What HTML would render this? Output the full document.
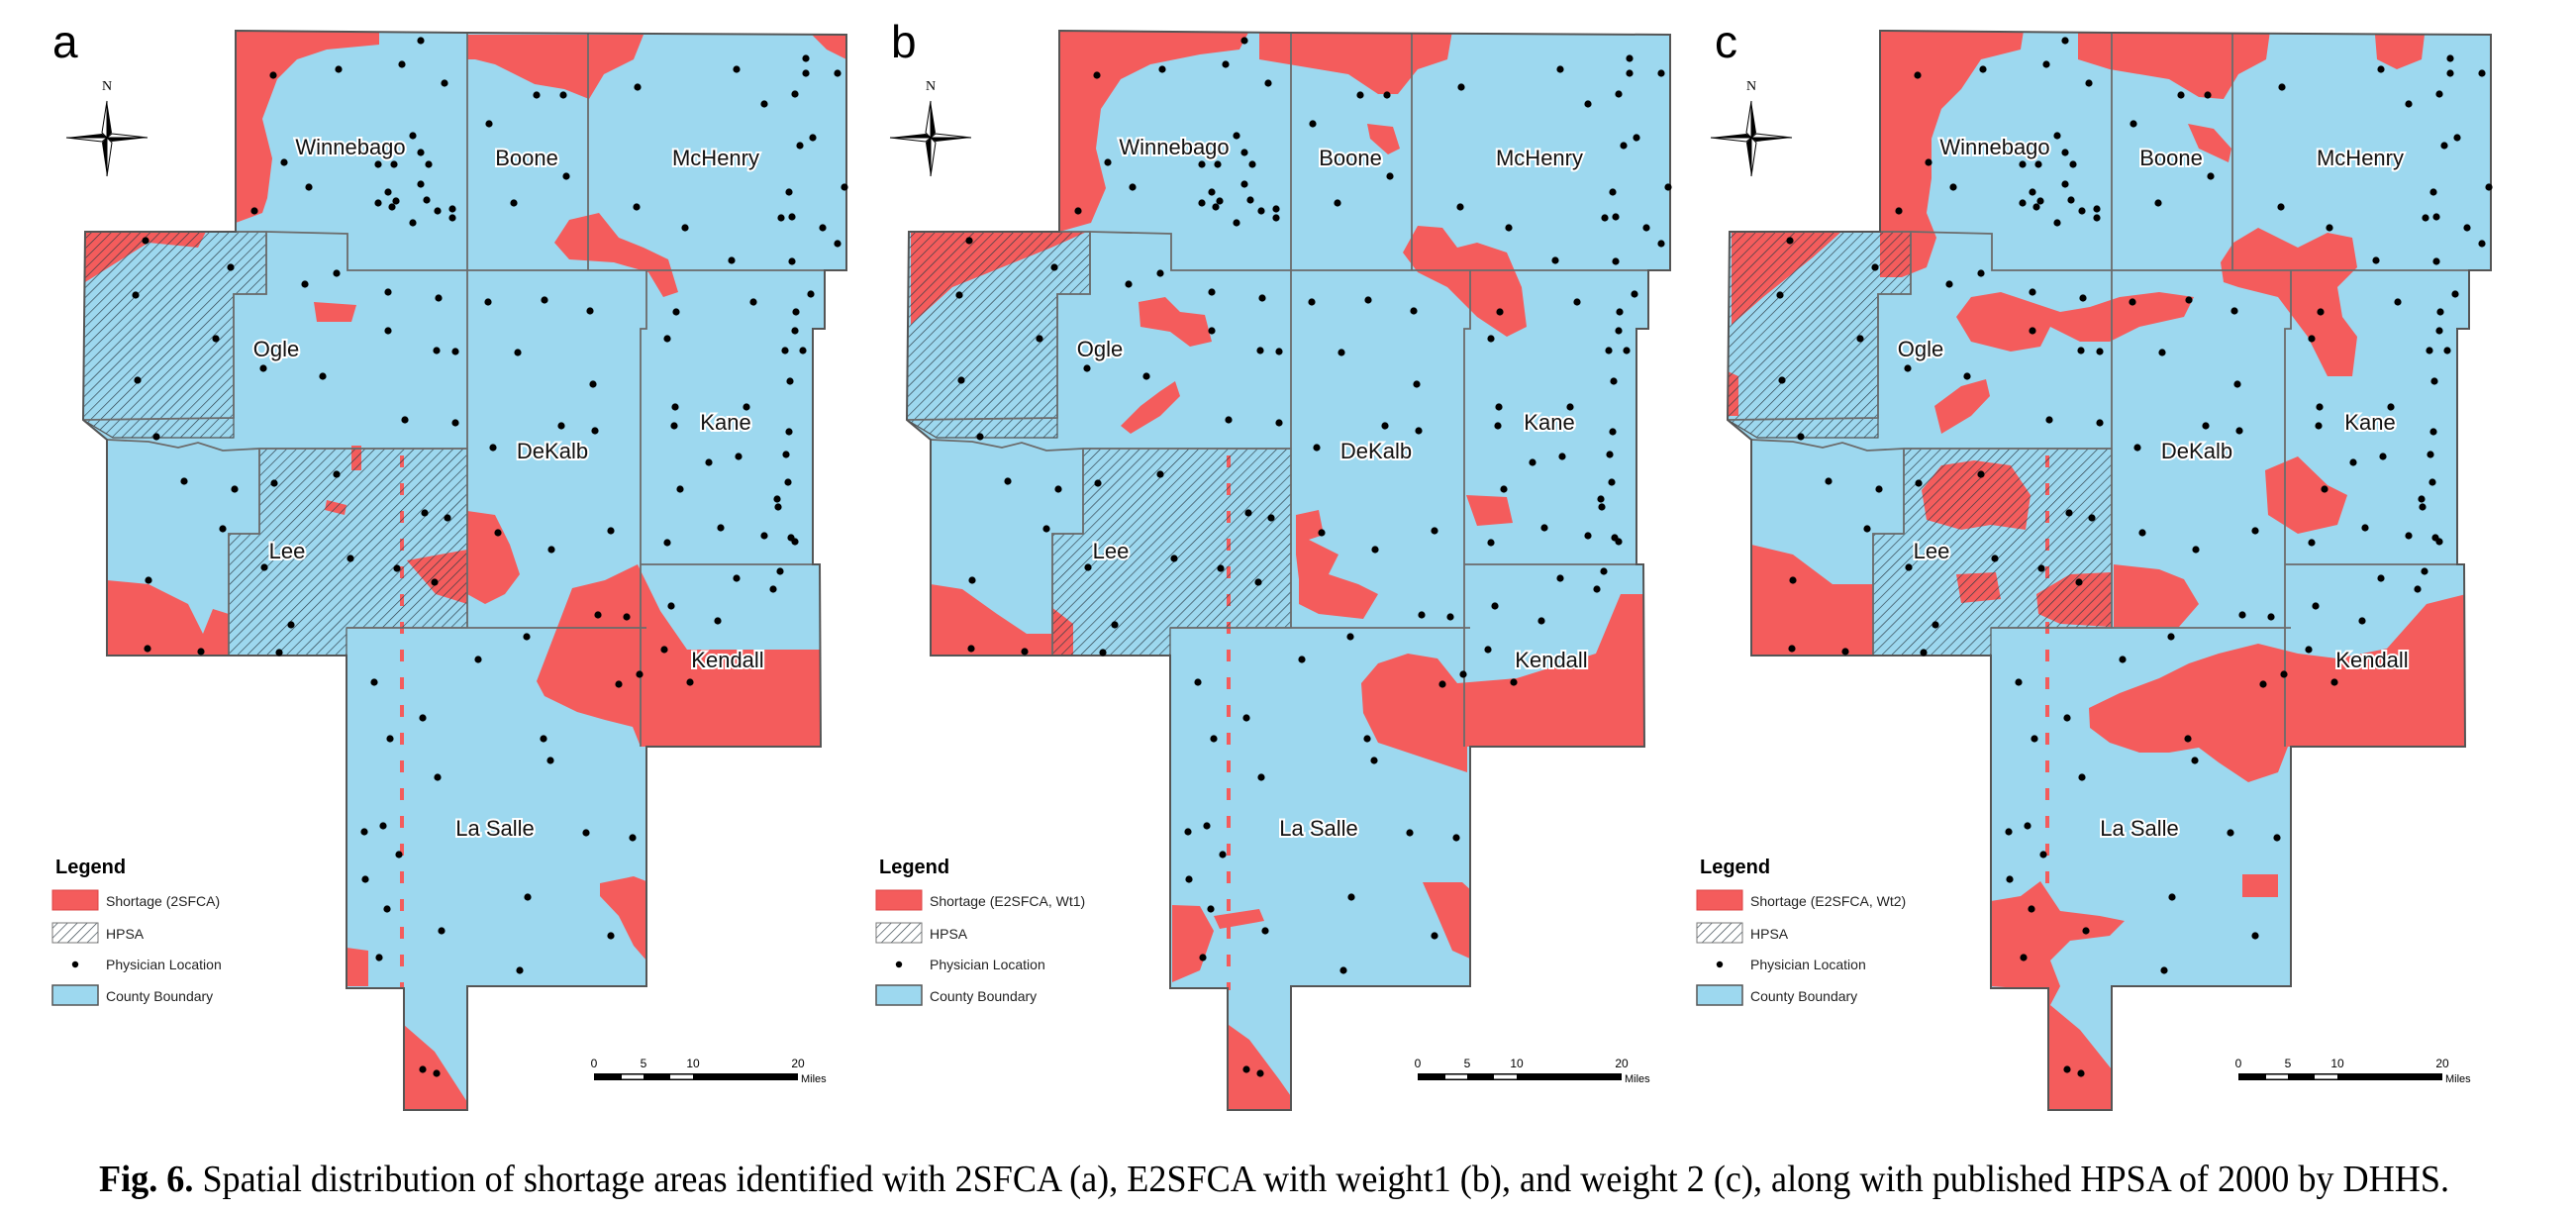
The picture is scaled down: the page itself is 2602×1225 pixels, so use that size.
<!DOCTYPE html>
<html><head><meta charset="utf-8">
<style>
html,body{margin:0;padding:0;background:#fff;}
svg{display:block;}
text{font-family:"Liberation Sans",sans-serif;}
</style></head>
<body>
<svg id="fig" width="2602" height="1225" viewBox="0 0 2602 1225" xmlns="http://www.w3.org/2000/svg">
<defs>
<pattern id="hatch" patternUnits="userSpaceOnUse" width="7" height="7" patternTransform="rotate(45)">
<line x1="0" y1="0" x2="0" y2="7" stroke="#2b3a44" stroke-width="1.3"/>
</pattern>
<clipPath id="outlineClip"><polygon points="238,31 472,33 855,35 855,273 833,273 833,332 821,332 821,570 828,570 829,754 653,754 653,996 472,996 472,1121 408,1121 408,998 350,998 350,662 108,662 108,444 84,424 86,234 238,234"/></clipPath>
</defs>
<text x="100" y="1203" font-size="38" textLength="2374" lengthAdjust="spacingAndGlyphs" style="font-family:'Liberation Serif',serif"><tspan font-weight="bold">Fig. 6.</tspan>  Spatial distribution of shortage areas identified with 2SFCA (a), E2SFCA with weight1 (b), and weight 2 (c), along with published HPSA of 2000 by DHHS.</text>
</svg>
<script>
// physician locations (map coordinates)
const dotX = [276,342,406,425,449,417,425,433,398,382,287,312,257,425,431,442,457,457,417,396,400,392,382,
542,569,494,572,519,
644,744,814,814,846,803,772,821,808,853,797,643,789,800,692,831,846,739,800,
147,233,137,218,139,158,
308,340,392,443,392,441,460,266,326,409,460,
493,550,596,523,599,567,601,498,503,557,617,
683,804,819,761,674,793,811,803,798,682,681,754,797,716,746,794,687,796,785,786,728,772,799,803,674,
744,781,788,678,725,604,633,671,625,646,697,
532,483,378,427,394,549,556,442,368,387,403,592,639,369,391,533,446,617,383,525,427,441,
277,340,429,452,354,267,401,439,294,282,
186,237,225,150,149,203];
const dotY = [76,70,65,41,84,137,154,166,166,166,164,189,213,186,202,213,211,220,225,209,203,194,205,
96,96,125,178,205,
88,70,59,74,74,95,105,139,147,189,194,209,220,219,230,230,246,263,264,
243,270,298,342,384,441,
287,276,295,301,334,354,355,372,380,424,427,
305,303,314,356,388,430,435,452,538,555,536,
315,315,297,305,342,354,354,334,385,411,430,411,436,467,461,459,494,487,504,512,533,541,543,547,548,
584,595,577,612,627,621,623,656,691,681,689,
643,666,689,725,746,746,768,785,840,834,863,841,846,888,918,906,940,945,967,980,1080,1084,
488,479,518,523,564,573,574,588,631,659,
486,494,534,586,655,658];
const countyNames = ["Winnebago","Boone","McHenry","Ogle","DeKalb","Kane","Lee","Kendall","La Salle"];
const countyLabelX = [354,532,723,279,558,733,290,735,500];
const countyLabelY = [148,159,723-564,352,455,426,556,666,836];
const panelOffsets = [0,832,1661];
const panelLetters = ["a","b","c"];
const panelLetterX = [53,900,1732];
const legendShortage = ["Shortage (2SFCA)","Shortage (E2SFCA, Wt1)","Shortage (E2SFCA, Wt2)"];
const redA = [
"238,31 383,31 383,45 330,50 300,60 280,80 265,120 275,160 270,200 265,215 238,225",
"472,35 650,35 640,60 610,75 595,100 570,90 540,85 500,65 480,60 472,60",
"820,35 855,35 855,60 835,50",
"560,245 575,222 605,215 625,240 650,250 675,262 685,295 670,300 655,275 620,265 575,262",
"108,586 150,590 190,610 205,640 215,615 231,620 231,662 108,662",
"86,234 208,234 200,250 150,245 110,270 86,285",
"542,688 578,594 611,586 644,570 667,617 694,656 828,656 829,754 647,754 639,734 611,727 583,719 550,703",
"606,892 640,885 653,890 653,970 640,955 625,925 606,905",
"350,957 372,960 372,996 350,996",
"408,1035 439,1062 472,1113 472,1121 408,1121",
"472,516 500,520 515,550 525,580 510,600 490,610 472,600",
"411,566 472,555 472,610 440,600",
"317,305 360,308 355,325 320,325",
"330,505 350,510 348,520 328,515",
"355,450 365,450 365,475 355,475"
];
const redB = [
"238,31 430,31 420,50 380,55 330,65 300,80 280,110 275,150 285,190 270,225 238,234",
"440,31 635,31 630,60 600,70 580,95 560,95 530,75 470,65 440,60",
"549,125 575,128 582,150 570,156 552,140",
"585,255 600,228 625,230 640,250 660,245 690,255 705,290 710,330 690,340 660,320 630,290 600,275",
"88,234 266,234 230,250 180,270 130,290 88,328",
"318,305 345,300 360,315 385,318 392,345 370,350 350,335 320,330",
"300,430 320,410 340,395 355,385 360,400 340,420 310,438",
"477,520 500,515 505,540 490,545 520,560 510,580 540,590 560,600 545,625 500,620 480,610 480,585 477,560",
"649,500 690,502 696,528 660,531",
"543,690 560,670 590,660 620,665 640,690 700,685 780,660 805,600 830,600 830,754 650,754 650,780 620,770 590,760 560,750 545,720",
"605,891 645,891 655,900 655,969 635,960 620,925",
"352,914 380,915 394,940 380,980 352,992",
"394,925 440,918 445,930 400,938",
"409,1035 430,1050 460,1090 474,1110 474,1121 409,1121",
"108,590 140,595 175,620 205,640 231,640 231,662 108,662",
"230,613 252,630 252,662 230,662"
];
const redC = [
"238,31 383,31 380,50 340,60 320,90 300,110 290,140 290,180 285,215 295,240 285,270 260,280 238,280",
"438,31 632,31 628,60 600,75 585,100 560,98 530,80 470,70 438,60",
"549,125 575,130 593,150 590,164 560,150",
"738,35 788,35 785,60 760,70 740,60",
"582,265 595,245 620,230 640,240 660,250 690,235 715,240 720,270 700,290 705,320 720,340 715,380 690,380 670,340 640,300 600,290 585,285",
"315,320 330,300 360,295 390,305 420,315 450,310 480,300 520,295 555,300 545,320 500,330 470,345 440,345 410,330 400,350 370,355 330,345",
"293,410 320,390 345,383 349,400 330,420 300,438",
"333,465 370,470 390,500 385,535 350,530 320,535 285,525 280,495 300,470",
"315,580 355,578 360,605 320,609",
"396,600 430,580 471,578 471,633 420,630 398,620",
"474,570 520,575 545,585 560,610 540,633 474,633",
"627,475 660,461 690,490 710,500 700,530 660,539 630,520",
"449,715 480,700 520,685 550,670 580,660 620,650 660,660 700,665 750,655 790,610 830,600 832,754 650,754 640,780 610,790 580,770 560,755 530,760 500,760 470,750 450,735",
"350,910 380,905 400,890 420,920 460,925 485,930 470,945 430,950 410,970 420,996 410,1015 440,1040 472,1080 472,1121 408,1121 408,1000 350,996",
"108,550 150,560 190,590 231,590 231,662 108,662",
"88,234 199,234 170,260 120,300 88,328",
"84,375 95,380 95,420 84,420",
"604,883 640,883 640,906 604,906"
];
const redSets = [redA, redB, redC];
const dashX = [406,409,407];

const NS = "http://www.w3.org/2000/svg";
const svg = document.getElementById("fig");
function mk(tag, attrs, parent){
  const e = document.createElementNS(NS, tag);
  for (const k in attrs) e.setAttribute(k, attrs[k]);
  (parent || svg).appendChild(e);
  return e;
}
const outline = "238,31 472,33 855,35 855,273 833,273 833,332 821,332 821,570 828,570 829,754 653,754 653,996 472,996 472,1121 408,1121 408,998 350,998 350,662 108,662 108,444 84,424 86,234 238,234";
const hatchWest = "86,234 269,234 269,297 236,297 236,442 114,442 84,424";
const hatchLee = "262,453 472,453 472,634 350,634 350,662 231,662 231,539 262,539";
const boundaries = [
 "472,33 472,634","594,33 594,273","238,234 269,234 351,236 351,273 855,273",
 "653,273 653,332 647,332 647,754","647,570 821,570","350,634 653,634",
 "262,453 472,453","262,453 262,539 231,539 231,662",
 "269,234 269,297 236,297 236,422 84,424","108,444 150,446 180,452 200,447 225,455 262,453"
];

for (let p = 0; p < 3; p++) {
  const g = mk("g", {transform: "translate(" + panelOffsets[p] + ",0)"});
  
  
  const base = mk("polygon", {points: outline, fill: "#9dd8ef", stroke: "none"}, g);
  
  
  const rg = mk("g", {"clip-path": "url(#outlineClip)"}, g);
  
  
  redSets[p].forEach(function(pts){
    const r = mk("polygon", {points: pts, fill: "#f45c5c"}, rg);
    
    
  });
  const dl = mk("line", {x1: dashX[p], y1: 460, x2: dashX[p], y2: 1000, stroke: "#f45c5c", "stroke-width": 4, "stroke-dasharray": "12 16"}, rg);
  
  
  [hatchWest, hatchLee].forEach(function(pts){
    const h = mk("polygon", {points: pts, fill: "url(#hatch)", stroke: "#555", "stroke-width": 1.2}, g);
    
    
  });
  boundaries.forEach(function(pts){
    const b = mk("polyline", {points: pts, fill: "none", stroke: "#6b6b6b", "stroke-width": 1.8}, g);
    
    
  });
  const ol = mk("polygon", {points: outline, fill: "none", stroke: "#555", "stroke-width": 2}, g);
  
  
  for (let i = 0; i < dotX.length; i++) {
    const c = mk("circle", {cx: dotX[i], cy: dotY[i], r: 3.6, fill: "#000"}, g);
    
    
  }
  for (let i = 0; i < countyNames.length; i++) {
    const t = mk("text", {x: countyLabelX[i], y: countyLabelY[i] + 8, "font-size": 22, "text-anchor": "middle", fill: "#111", stroke: "#fff", "stroke-width": 4, "paint-order": "stroke"}, g);
    t.textContent = countyNames[i];
    
    
  }
  // north arrow
  const na = mk("g", {transform: "translate(108,139)"}, g);
  
  
  mk("polygon", {points: "0,-37 5,-5 0,0", fill: "#000"}, na);
  mk("polygon", {points: "0,-37 -5,-5 0,0", fill: "#fff", stroke: "#000", "stroke-width": 1}, na);
  mk("polygon", {points: "0,39 -5,5 0,0", fill: "#000"}, na);
  mk("polygon", {points: "0,39 5,5 0,0", fill: "#fff", stroke: "#000", "stroke-width": 1}, na);
  mk("polygon", {points: "-41,0 -5,-4 0,0", fill: "#000"}, na);
  mk("polygon", {points: "-41,0 -5,4 0,0", fill: "#fff", stroke: "#000", "stroke-width": 1}, na);
  mk("polygon", {points: "41,0 5,4 0,0", fill: "#000"}, na);
  mk("polygon", {points: "41,0 5,-4 0,0", fill: "#fff", stroke: "#000", "stroke-width": 1}, na);
  const nt = mk("text", {x: 0, y: -48, "font-size": 14, "text-anchor": "middle", style: "font-family:'Liberation Serif',serif"}, na);
  nt.textContent = "N";
  // legend
  const lg = mk("g", {}, g);
  
  
  const lt = mk("text", {x: 56, y: 882, "font-size": 20, "font-weight": "bold"}, lg);
  lt.textContent = "Legend";
  const s1 = mk("rect", {x: 53, y: 899, width: 46, height: 20, fill: "#f45c5c", stroke: "#d44", "stroke-width": 1}, lg);
  
  
  const s2 = mk("rect", {x: 53, y: 932, width: 46, height: 20, fill: "url(#hatch)", stroke: "#777", "stroke-width": 1}, lg);
  
  
  mk("circle", {cx: 76, cy: 974, r: 3.2, fill: "#000"}, lg);
  const s4 = mk("rect", {x: 53, y: 995, width: 46, height: 20, fill: "#9dd8ef", stroke: "#555", "stroke-width": 1.5}, lg);
  
  
  const labels = [legendShortage[p], "HPSA", "Physician Location", "County Boundary"];
  const ly = [915, 948, 979, 1011];
  for (let i = 0; i < 4; i++) {
    const t = mk("text", {x: 107, y: ly[i], "font-size": 14, fill: "#222"}, lg);
    t.textContent = labels[i];
    
    
  }
  // scale bar
  const sb = mk("g", {}, g);
  
  
  mk("rect", {x: 600, y: 1084, width: 206, height: 7, fill: "#000"}, sb);
  mk("rect", {x: 628, y: 1085.5, width: 22, height: 4, fill: "#fff"}, sb);
  mk("rect", {x: 677, y: 1085.5, width: 23, height: 4, fill: "#fff"}, sb);
  const sl = ["0","5","10","20"], sx = [600,650,700,806];
  for (let i = 0; i < 4; i++) {
    const t = mk("text", {x: sx[i], y: 1078, "font-size": 12, "text-anchor": "middle"}, sb);
    t.textContent = sl[i];
  }
  const mt = mk("text", {x: 809, y: 1093, "font-size": 11}, sb);
  mt.textContent = "Miles";
}
for (let p = 0; p < 3; p++) {
  const t = mk("text", {x: panelLetterX[p], y: 58, "font-size": 46});
  t.textContent = panelLetters[p];
  
  
}
</script>
</body></html>
